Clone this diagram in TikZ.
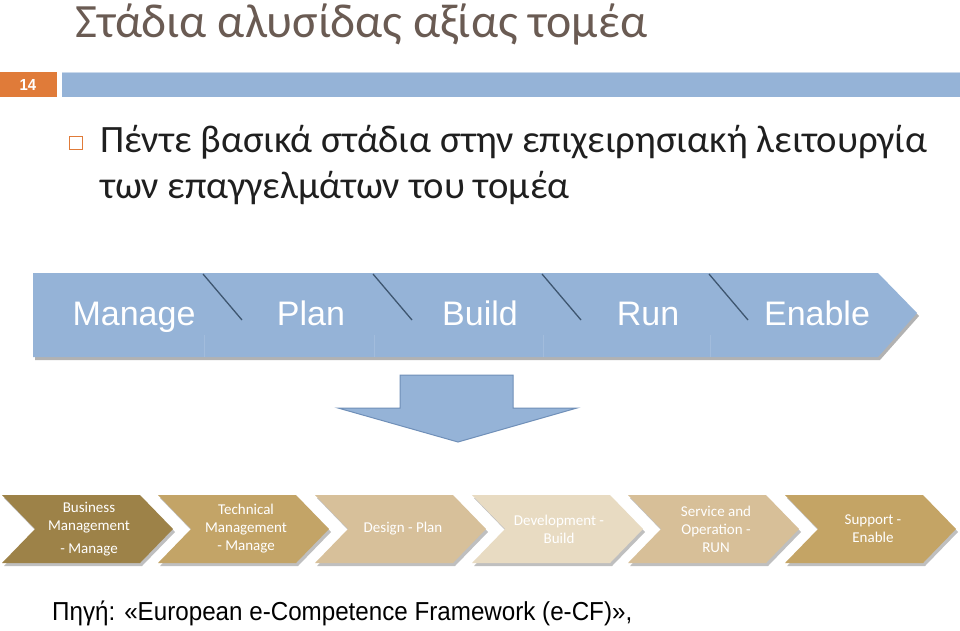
\documentclass[tikz,border=0pt]{standalone}
\usepackage{fontspec}
\setmainfont{Carlito}
\newfontfamily\arialf{Liberation Sans}
\newfontfamily\arialn[FakeStretch=0.93]{Liberation Sans}
\definecolor{titlec}{HTML}{6A5B53}
\definecolor{orangec}{HTML}{E07B39}
\definecolor{bluec}{HTML}{95B3D7}
\definecolor{blueline}{HTML}{3E5670}
\definecolor{arrowedge}{HTML}{6F8FB8}
\definecolor{gA}{HTML}{9D8248}
\definecolor{gB}{HTML}{C3A467}
\definecolor{gC}{HTML}{D7C09A}
\definecolor{gD}{HTML}{E8DBC2}
\definecolor{gE}{HTML}{D7BF98}
\definecolor{gF}{HTML}{C4A465}
\tikzset{
  bandtext/.style={text=white,font=\arialf\fontsize{34}{40}\selectfont,inner sep=0pt,anchor=base},
  chevtext/.style={text=white,font=\fontsize{15}{18}\selectfont,align=center,inner sep=0pt},
  bultext/.style={anchor=base west,text=black!88,font=\fontsize{38.7}{46}\selectfont,inner sep=0pt},
  sepline/.style={blueline,line width=1.3pt},
}
\newcommand{\chev}[3]{% left x, colour, name
  \fill[black,opacity=0.25] (#1+2,498) -- (#1+140,498) -- (#1+173,532) -- (#1+140,566) -- (#1+2,566) -- (#1+35,532) -- cycle;
  \fill[#2] (#1,495) -- (#1+138,495) -- (#1+171,529) -- (#1+138,563) -- (#1,563) -- (#1+33,529) -- cycle;
  \coordinate (#3) at (#1+88,529);
}
\begin{document}
\begin{tikzpicture}[x=1pt,y=-1pt]
\useasboundingbox[fill=white] (0,0) rectangle (960,630);
% title
\node[anchor=west,text=titlec,font=\fontsize{47.8}{52}\selectfont,inner sep=0pt] (title) at (75,25) {Στάδια αλυσίδας αξίας τομέα};
% header bar
\fill[orangec] (0,72) rectangle (57,97);
\node[text=white,font=\arialn\bfseries\fontsize{16}{18}\selectfont,inner sep=0pt] (num) at (28,84.5) {14};
\fill[bluec] (62,72) rectangle (960,97);
\draw[white,opacity=0.5,line width=1pt] (62,72.5) -- (960,72.5);
% bullet
\draw[orangec,line width=1pt] (69,136) rectangle (82,149) coordinate (bul);
\node[bultext] (bullet1) at (100,152) {Πέντε βασικά στάδια στην επιχειρησιακή λειτουργία};
\node[bultext] (bullet2) at (100,198) {των επαγγελμάτων του τομέα};
% blue chevron band
\fill[black,opacity=0.3] (35,276) -- (880,276) -- (919,316) -- (880,360) -- (35,360) -- cycle;
\fill[bluec] (33,273) -- (878,273) -- (917,313) -- (878,357) -- (33,357) -- cycle;
\foreach \x in {203,373,542,709}{
  \draw[sepline] (\x,274) -- (\x+39,320);
  \draw[white,opacity=0.13,line width=0.8pt] (\x+1,335) -- (\x+1,357);
}
\node[bandtext] (manage) at (134,325) {Manage};
\node[bandtext] (plan) at (311,325) {Plan};
\node[bandtext] (build) at (480,325) {Build};
\node[bandtext] (run) at (648,325) {Run};
\node[bandtext] (enable) at (817,325) {Enable};
% down arrow
\draw[fill=bluec,draw=arrowedge,line width=1pt] (400,375) -- (513,375) -- (513,408) -- (577,408) -- (458,442) -- (338,408) -- (400,408) -- cycle;
% bottom chevrons
\chev{2}{gA}{c1}
\chev{158}{gB}{c2}
\chev{315}{gC}{c3}
\chev{472}{gD}{c4}
\chev{628}{gE}{c5}
\chev{785}{gF}{c6}
\node[chevtext] (t1) at (89,529) {Business\\Management\\[5pt]- Manage};
\node[chevtext] (t2) at (246,529) {Technical\\Management\\- Manage};
\node[chevtext] (t3) at (403,529) {Design - Plan};
\node[chevtext] (t4) at (559,529) {Development -\\Build};
\node[chevtext] (t5) at (716,529) {Service and\\Operation -\\RUN};
\node[chevtext] (t6) at (873,529) {Support -\\Enable};
% source
\node[anchor=west,text=black,font=\arialn\fontsize{26}{30}\selectfont,inner sep=0pt] (src) at (52,613) {Πηγή: «European e-Competence Framework (e-CF)»,};
\end{tikzpicture}
\end{document}
